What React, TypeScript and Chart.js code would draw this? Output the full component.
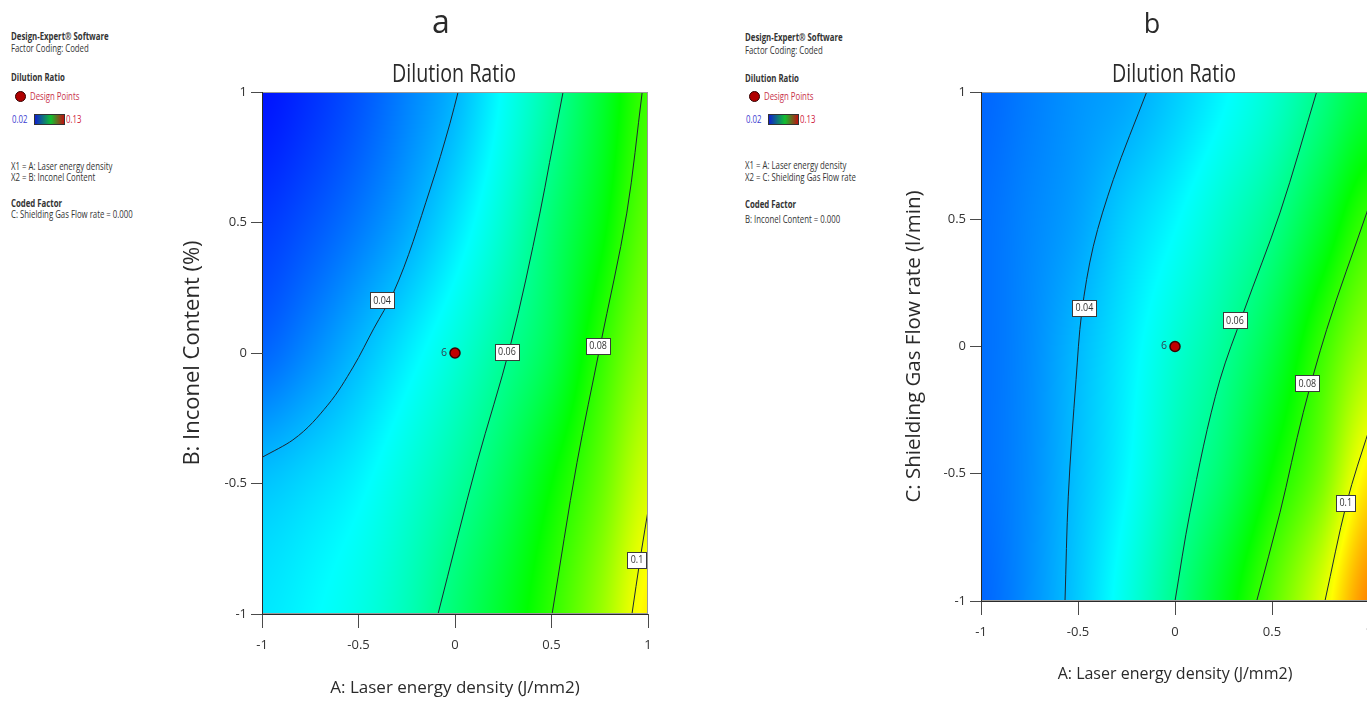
import React, { useEffect, useRef } from "react";
import { Chart, registerables } from "chart.js";

Chart.register(...registerables);

const FONT = "'Open Sans', 'Noto Sans', 'DejaVu Sans', sans-serif";

// ---------- data ----------
const tickValues = [-1, -0.5, 0, 0.5, 1];
const gridX = [-1, -0.75, -0.5, -0.25, 0, 0.25, 0.5, 0.75, 1];
const gridY = [1, 0.5, 0, -0.5, -1];

// Dilution ratio read over (A, B) at C = 0 (rows follow gridY, columns gridX)
const dilutionA = [
  [0.022, 0.025, 0.029, 0.034, 0.0395, 0.048, 0.0575, 0.069, 0.0815],
  [0.026, 0.029, 0.033, 0.038, 0.0445, 0.0525, 0.0625, 0.073, 0.0855],
  [0.031, 0.035, 0.04, 0.0455, 0.0515, 0.0585, 0.0665, 0.0797, 0.091],
  [0.0412, 0.0435, 0.0465, 0.0515, 0.0575, 0.065, 0.075, 0.0855, 0.098],
  [0.045, 0.047, 0.05, 0.055, 0.0625, 0.0705, 0.08, 0.091, 0.104],
];
// Dilution ratio read over (A, C) at B = 0
const dilutionB = [
  [0.031, 0.0335, 0.036, 0.038, 0.042, 0.0468, 0.0525, 0.0605, 0.069],
  [0.032, 0.0345, 0.0375, 0.0425, 0.047, 0.053, 0.0595, 0.0695, 0.081],
  [0.032, 0.035, 0.04, 0.0455, 0.052, 0.0585, 0.0675, 0.0805, 0.092],
  [0.032, 0.0352, 0.0408, 0.047, 0.0555, 0.0635, 0.0755, 0.087, 0.1045],
  [0.031, 0.0355, 0.0418, 0.05, 0.06, 0.0715, 0.0845, 0.0985, 0.1155],
];

const colorLevels = [0.02, 0.0475, 0.075, 0.1025, 0.13];
const colorStops = [
  [0, 0, 255],
  [0, 255, 255],
  [0, 255, 0],
  [255, 255, 0],
  [255, 0, 0],
];

// contour lines, panel a  ([A, B] pairs)
const contourA004 = [[0.016, 1], [-0.026, 0.88], [-0.13, 0.625], [-0.32, 0.23], [-0.42, 0.095], [-0.528, -0.054], [-0.66, -0.2], [-0.84, -0.333], [-1, -0.4]];
const contourA006 = [[0.56, 1], [0.49, 0.73], [0.44, 0.536], [0.285, 0.023], [0.114, -0.42], [-0.088, -1]];
const contourA008 = [[0.97, 1], [0.89, 0.536], [0.751, 0.023], [0.632, -0.42], [0.503, -1]];
const contourA010 = [[1.01, -0.56], [0.959, -0.79], [0.917, -1]];
const labelsA = [
  { text: "0.04", x: -0.378, y: 0.203 },
  { text: "0.06", x: 0.269, y: 0.004 },
  { text: "0.08", x: 0.741, y: 0.027 },
  { text: "0.1", x: 0.943, y: -0.793 },
];

// contour lines, panel b  ([A, C] pairs)
const contourB004 = [[-0.146, 1], [-0.318, 0.656], [-0.421, 0.394], [-0.481, 0.132], [-0.51, -0.13], [-0.55, -0.588], [-0.567, -1]];
const contourB006 = [[0.73, 1], [0.541, 0.525], [0.352, 0.132], [0.232, -0.13], [0.077, -0.653], [0, -1]];
const contourB008 = [[1.03, 0.62], [0.988, 0.525], [0.782, 0.067], [0.661, -0.26], [0.541, -0.653], [0.421, -1]];
const contourB010 = [[1.03, -0.26], [0.94, -0.47], [0.885, -0.614], [0.773, -1]];
const labelsB = [
  { text: "0.04", x: -0.467, y: 0.152 },
  { text: "0.06", x: 0.309, y: 0.103 },
  { text: "0.08", x: 0.682, y: -0.145 },
  { text: "0.1", x: 0.88, y: -0.614 },
];

const designPoints = [{ x: 0, y: 0, n: 6 }];

// ---------- helpers ----------
function cr(p0: number, p1: number, p2: number, p3: number, t: number) {
  return 0.5 * (2 * p1 + (-p0 + p2) * t + (2 * p0 - 5 * p1 + 4 * p2 - p3) * t * t + (-p0 + 3 * p1 - 3 * p2 + p3) * t * t * t);
}
function interp1(arr: number[], f: number) {
  const n = arr.length;
  const ff = Math.max(0, Math.min(n - 1, f));
  const i = Math.max(0, Math.min(n - 2, Math.floor(ff)));
  const t = ff - i;
  const p0 = arr[Math.max(0, i - 1)];
  const p1 = arr[i];
  const p2 = arr[i + 1];
  const p3 = arr[Math.min(n - 1, i + 2)];
  return cr(p0, p1, p2, p3, t);
}
function colorFor(v: number) {
  if (v <= colorLevels[0]) return colorStops[0];
  for (let k = 0; k < colorLevels.length - 1; k++) {
    if (v <= colorLevels[k + 1]) {
      const t = (v - colorLevels[k]) / (colorLevels[k + 1] - colorLevels[k]);
      const a = colorStops[k], b = colorStops[k + 1];
      return [a[0] + (b[0] - a[0]) * t, a[1] + (b[1] - a[1]) * t, a[2] + (b[2] - a[2]) * t];
    }
  }
  return colorStops[colorStops.length - 1];
}

function heatmapPlugin(grid: number[][]) {
  return {
    id: "heatmap",
    beforeDatasetsDraw(chart: any) {
      const { ctx, chartArea: a, scales } = chart;
      const xs = scales.x, ys = scales.y;
      const x0 = Math.floor(a.left), y0 = Math.floor(a.top);
      const w = Math.ceil(a.right) - x0, h = Math.ceil(a.bottom) - y0;
      const off = document.createElement("canvas");
      off.width = w;
      off.height = h;
      const octx = off.getContext("2d")!;
      const img = octx.createImageData(w, h);
      const cols: number[][] = [];
      for (let i = 0; i < w; i++) {
        const xv = xs.getValueForPixel(x0 + i + 0.5);
        const fx = ((xv - gridX[0]) / (gridX[gridX.length - 1] - gridX[0])) * (gridX.length - 1);
        cols.push(grid.map((row) => interp1(row, fx)));
      }
      for (let j = 0; j < h; j++) {
        const yv = ys.getValueForPixel(y0 + j + 0.5);
        const fy = ((yv - gridY[0]) / (gridY[gridY.length - 1] - gridY[0])) * (gridY.length - 1);
        for (let i = 0; i < w; i++) {
          const c = colorFor(interp1(cols[i], fy));
          const idx = (j * w + i) * 4;
          img.data[idx] = c[0];
          img.data[idx + 1] = c[1];
          img.data[idx + 2] = c[2];
          img.data[idx + 3] = 255;
        }
      }
      octx.putImageData(img, 0, 0);
      ctx.save();
      ctx.beginPath();
      ctx.rect(a.left, a.top, a.right - a.left, a.bottom - a.top);
      ctx.clip();
      ctx.drawImage(off, x0, y0);
      ctx.restore();
    },
  };
}

function annotatePlugin(labels: { text: string; x: number; y: number }[]) {
  return {
    id: "annotate",
    afterDatasetsDraw(chart: any) {
      const { ctx, chartArea: a, scales } = chart;
      const xs = scales.x, ys = scales.y;
      ctx.save();
      ctx.lineWidth = 1;
      ctx.strokeStyle = "#9a9a9a";
      ctx.strokeRect(a.left + 0.5, a.top + 0.5, a.right - a.left - 1, a.bottom - a.top - 1);
      ctx.strokeStyle = "#2a2a2a";
      ctx.beginPath();
      ctx.moveTo(a.left + 0.5, a.top);
      ctx.lineTo(a.left + 0.5, a.bottom + 0.5);
      ctx.lineTo(a.right, a.bottom + 0.5);
      ctx.stroke();

      ctx.font = `10.5px ${FONT}`;
      ctx.textAlign = "center";
      ctx.textBaseline = "middle";
      for (const l of labels) {
        const px = xs.getPixelForValue(l.x);
        const py = ys.getPixelForValue(l.y);
        const tw = ctx.measureText(l.text).width * 0.85;
        const bw = Math.round(tw + 6), bh = 16;
        const bx = Math.round(px - bw / 2) + 0.5, by = Math.round(py - bh / 2) + 0.5;
        ctx.fillStyle = "#ffffff";
        ctx.fillRect(bx, by, bw, bh);
        ctx.strokeStyle = "#3a3a3a";
        ctx.strokeRect(bx, by, bw, bh);
        ctx.fillStyle = "#333333";
        ctx.save();
        ctx.translate(px, py + 0.5);
        ctx.scale(0.85, 1);
        ctx.fillText(l.text, 0, 0);
        ctx.restore();
      }
      ctx.textAlign = "right";
      ctx.fillStyle = "#2f4050";
      for (const p of designPoints) {
        const px = xs.getPixelForValue(p.x);
        const py = ys.getPixelForValue(p.y);
        ctx.fillText(String(p.n), px - 8, py);
      }
      ctx.restore();
    },
  };
}

function titlePlugin(letter: string, letterX: number, letterSize: number) {
  return {
    id: "panelTitle",
    afterDraw(chart: any) {
      const { ctx, chartArea: a } = chart;
      ctx.save();
      ctx.fillStyle = "#2a2a2a";
      ctx.textAlign = "center";
      ctx.textBaseline = "alphabetic";
      ctx.font = `${letterSize}px ${FONT}`;
      ctx.fillText(letter, letterX, 33);
      ctx.font = `26px ${FONT}`;
      const w = ctx.measureText("Dilution Ratio").width;
      ctx.translate((a.left + a.right) / 2 - 1, 82);
      ctx.scale(124 / w, 1);
      ctx.fillText("Dilution Ratio", 0, 0);
      ctx.restore();
    },
  };
}

type PanelCfg = {
  left: number;
  width: number;
  surface: number[][];
  contours: number[][][];
  labels: { text: string; x: number; y: number }[];
  xTitle: string;
  yTitle: string;
  xTitleSize: number;
  yTitleSize: number;
  padding: { left: number; right: number; top: number; bottom: number };
  yAxisWidth: number;
  xAxisHeight: number;
  xTickPad: number;
  letter: string;
  letterX: number;
  letterSize: number;
};

function makeScale(axis: "x" | "y", title: string, titleSize: number, size: number, tickLength: number, tickPad: number) {
  return {
    type: "linear",
    position: axis === "x" ? "bottom" : "left",
    min: -1,
    max: 1,
    afterBuildTicks: (s: any) => {
      s.ticks = tickValues.map((v) => ({ value: v }));
    },
    afterFit: (s: any) => {
      if (axis === "x") s.height = size;
      else s.width = size;
    },
    grid: { drawOnChartArea: false, drawTicks: true, tickLength, color: "#4a4a4a", lineWidth: 1 },
    border: { display: false },
    ticks: {
      color: "#333333",
      font: { family: FONT, size: 13 },
      padding: tickPad,
      maxRotation: 0,
      autoSkip: false,
      callback: (v: any) => String(v),
    },
    title: { display: true, text: title, color: "#2a2a2a", font: { family: FONT, size: titleSize }, padding: 0 },
  };
}

function Panel({ cfg }: { cfg: PanelCfg }) {
  const ref = useRef<HTMLCanvasElement>(null);
  useEffect(() => {
    const contourSets = cfg.contours.map((pts) => ({
      type: "line",
      indexAxis: "y",
      data: pts.map(([x, y]) => ({ x, y })),
      borderColor: "#1c2633",
      borderWidth: 1,
      pointRadius: 0,
      cubicInterpolationMode: "monotone",
      fill: false,
      order: 1,
    }));
    const chart = new Chart(ref.current!, {
      type: "scatter",
      data: {
        datasets: [
          ...contourSets,
          {
            type: "scatter",
            data: designPoints.map((p) => ({ x: p.x, y: p.y })),
            pointRadius: 5,
            backgroundColor: "#c00000",
            borderColor: "#3a0000",
            borderWidth: 1.5,
            order: 0,
          },
        ] as any,
      },
      options: {
        animation: false,
        responsive: false,
        maintainAspectRatio: false,
        events: [],
        layout: { padding: cfg.padding },
        plugins: { legend: { display: false }, tooltip: { enabled: false }, title: { display: false } },
        scales: {
          x: makeScale("x", cfg.xTitle, cfg.xTitleSize, cfg.xAxisHeight, 14, cfg.xTickPad),
          y: makeScale("y", cfg.yTitle, cfg.yTitleSize, cfg.yAxisWidth, 11, 4),
        } as any,
      },
      plugins: [heatmapPlugin(cfg.surface), annotatePlugin(cfg.labels), titlePlugin(cfg.letter, cfg.letterX, cfg.letterSize)],
    } as any);
    return () => chart.destroy();
  }, []);
  return (
    <canvas
      ref={ref}
      width={cfg.width}
      height={702}
      style={{ position: "absolute", left: cfg.left, top: 0, width: cfg.width, height: 702 }}
    />
  );
}

const panelA: PanelCfg = {
  left: 0,
  width: 683,
  surface: dilutionA,
  contours: [contourA004, contourA006, contourA008, contourA010],
  labels: labelsA,
  xTitle: "A: Laser energy density (J/mm2)",
  yTitle: "B: Inconel Content (%)",
  xTitleSize: 17,
  yTitleSize: 22,
  padding: { left: 180, right: 35, top: 92, bottom: 4 },
  yAxisWidth: 82,
  xAxisHeight: 84,
  xTickPad: 9,
  letter: "a",
  letterX: 441,
  letterSize: 32,
};

const panelB: PanelCfg = {
  left: 683,
  width: 700,
  surface: dilutionB,
  contours: [contourB004, contourB006, contourB008, contourB010],
  labels: labelsB,
  xTitle: "A: Laser energy density (J/mm2)",
  yTitle: "C: Shielding Gas Flow rate (l/min)",
  xTitleSize: 16,
  yTitleSize: 20.5,
  padding: { left: 219, right: 14, top: 92, bottom: 18 },
  yAxisWidth: 79,
  xAxisHeight: 83,
  xTickPad: 9,
  letter: "b",
  letterX: 1152 - 683,
  letterSize: 27,
};

type Line = { text: string; y: number; bold?: boolean; color?: string; x?: number };

function LegendBlock({ left, lines, markerY, barY }: { left: number; lines: Line[]; markerY: number; barY: number }) {
  const txt = (l: Line, i: number) => (
    <div
      key={i}
      style={{
        position: "absolute",
        left: l.x ?? left,
        top: l.y - 7,
        fontFamily: FONT,
        fontSize: 10,
        lineHeight: "14px",
        fontWeight: l.bold ? 700 : 400,
        color: l.color ?? "#333",
        whiteSpace: "nowrap",
        transform: "scaleX(0.78)",
        transformOrigin: "left center",
      }}
    >
      {l.text}
    </div>
  );
  return (
    <>
      {lines.map(txt)}
      <div
        style={{
          position: "absolute",
          left: left + 4,
          top: markerY - 5,
          width: 9,
          height: 9,
          borderRadius: "50%",
          background: "#b00000",
          border: "1px solid #300",
        }}
      />
      {txt({ text: "Design Points", y: markerY, color: "#c8324a", x: left + 19 }, 100)}
      {txt({ text: "0.02", y: barY, color: "#3b3bd0", x: left + 1 }, 101)}
      <div
        style={{
          position: "absolute",
          left: left + 23,
          top: barY - 5,
          width: 29,
          height: 9,
          border: "1px solid #333",
          background: "linear-gradient(to right, #1020d0, #10c030 55%, #c01010)",
        }}
      />
      {txt({ text: "0.13", y: barY, color: "#d02040", x: left + 55 }, 102)}
    </>
  );
}

const legendALines: Line[] = [
  { text: "Design-Expert® Software", y: 36, bold: true },
  { text: "Factor Coding: Coded", y: 48 },
  { text: "Dilution Ratio", y: 77, bold: true },
  { text: "X1 = A: Laser energy density", y: 166 },
  { text: "X2 = B: Inconel Content", y: 177 },
  { text: "Coded Factor", y: 203, bold: true },
  { text: "C: Shielding Gas Flow rate = 0.000", y: 214 },
];
const legendBLines: Line[] = [
  { text: "Design-Expert® Software", y: 37, bold: true },
  { text: "Factor Coding: Coded", y: 50 },
  { text: "Dilution Ratio", y: 78, bold: true },
  { text: "X1 = A: Laser energy density", y: 165 },
  { text: "X2 = C: Shielding Gas Flow rate", y: 177 },
  { text: "Coded Factor", y: 204, bold: true },
  { text: "B: Inconel Content = 0.000", y: 219 },
];

export default function App() {
  return (
    <div
      style={{
        position: "absolute",
        left: 0,
        top: 0,
        width: 1367,
        height: 702,
        overflow: "hidden",
        background: "#ffffff",
      }}
    >
      <LegendBlock left={11} lines={legendALines} markerY={96} barY={119} />
      <LegendBlock left={745} lines={legendBLines} markerY={96} barY={119} />
      <Panel cfg={panelA} />
      <Panel cfg={panelB} />
    </div>
  );
}
